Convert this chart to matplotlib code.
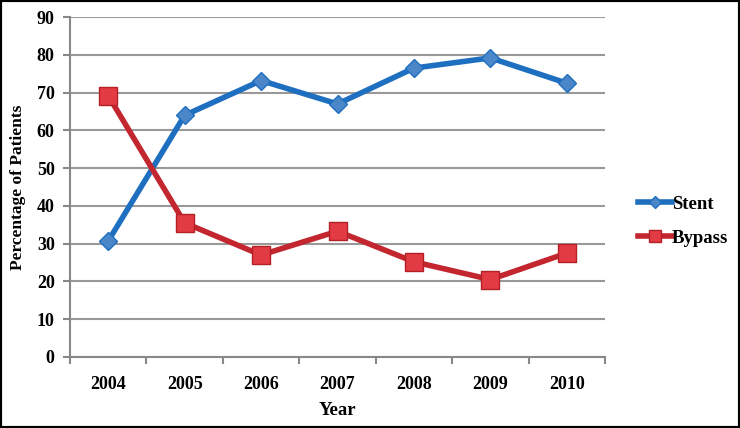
import matplotlib.pyplot as plt
from matplotlib.patches import Rectangle

years = ["2004", "2005", "2006", "2007", "2008", "2009", "2010"]
stent = [30.7, 64, 73.2, 67, 76.5, 79.2, 72.5]
bypass = [69.2, 35.5, 27, 33.3, 25.2, 20.5, 27.5]

plt.rcParams['font.family'] = ['Liberation Serif', 'DejaVu Serif']
plt.rcParams['font.weight'] = 'bold'

fig = plt.figure(figsize=(7.4, 4.28), dpi=100)
ax = fig.add_axes([0.0946, 0.166, 0.723, 0.794])

x = list(range(len(years)))
ax.plot(x, stent, color='#1f6fc0', linewidth=4, marker='D', markersize=9,
        markerfacecolor='#4a86c8', markeredgecolor='#1f6fc0', markeredgewidth=1,
        label='Stent', zorder=3)
ax.plot(x, bypass, color='#c3262e', linewidth=4, marker='s', markersize=13,
        markerfacecolor='#e23b44', markeredgecolor='#b51f27', markeredgewidth=1,
        label='Bypass', zorder=3)

ax.set_xlim(-0.5, len(years) - 0.5)
ax.set_ylim(0, 90)
ax.set_yticks(range(0, 91, 10))
ax.set_xticks(x)
ax.set_xticklabels(years)
ax.set_xticks([i - 0.5 for i in range(len(years) + 1)], minor=True)
ax.tick_params(axis='x', which='major', length=0, pad=14, labelsize=13)
ax.tick_params(axis='x', which='minor', length=5, color='#888888', width=1.5)
ax.tick_params(axis='y', length=5, color='#888888', width=1.5, labelsize=13, pad=6)
ax.yaxis.grid(True, color='#999999', linewidth=1.5)
ax.set_axisbelow(True)
for s in ['top', 'right']:
    ax.spines[s].set_visible(False)
for s in ['left', 'bottom']:
    ax.spines[s].set_color('#888888')
    ax.spines[s].set_linewidth(1.5)

ax.set_xlabel('Year', fontsize=13.5, fontweight='bold', labelpad=6)
ax.set_ylabel('Percentage of Patients', fontsize=12.5, fontweight='bold', labelpad=8)

ax.legend(loc='center left', bbox_to_anchor=(1.03, 0.40), frameon=False,
          fontsize=13.5, handlelength=1.8, handletextpad=0.0, labelspacing=0.9,
          markerscale=0.7)

fig.patches.append(Rectangle((0, 0), 1, 1, transform=fig.transFigure,
                             fill=False, edgecolor='black', linewidth=3))

fig.savefig('out.png', dpi=100)
